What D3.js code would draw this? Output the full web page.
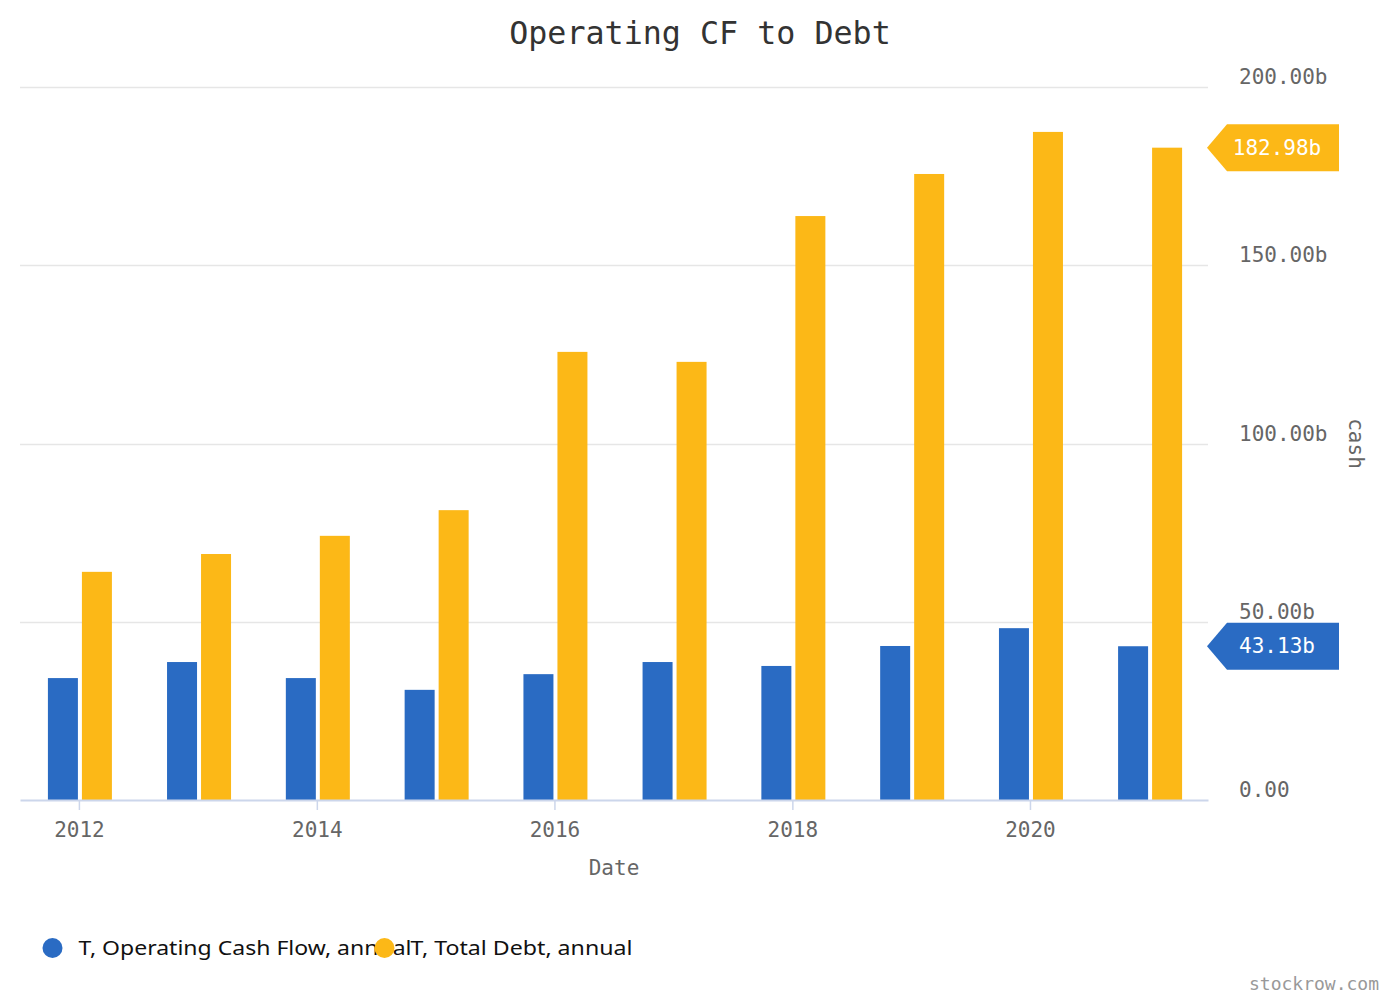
<!DOCTYPE html>
<html>
<head>
<meta charset="utf-8">
<script src="https://cdn.jsdelivr.net/npm/d3@7"></script>
<style>
  html, body { margin: 0; padding: 0; background: #fff; }
  svg { display: block; }
</style>
</head>
<body>
<svg id="chart" width="1400" height="1000"></svg>
<script>
// ---- data ----
const dates = ["2012-01-01","2013-01-01","2014-01-01","2015-01-01","2016-01-01",
               "2017-01-01","2018-01-01","2019-01-01","2020-01-01","2021-01-01"];
const operatingCashFlow = [34.2, 38.7, 34.2, 30.9, 35.3, 38.7, 37.6, 43.2, 48.2, 43.13];
const totalDebt = [64.0, 69.0, 74.1, 81.3, 125.7, 122.9, 163.8, 175.6, 187.4, 182.98];
const seriesNames = ["T, Operating Cash Flow, annual", "T, Total Debt, annual"];
const seriesColors = ["#2a6bc3", "#fcb817"];
const yTicks = [0, 50, 100, 150, 200];
const xTickYears = [2012, 2014, 2016, 2018, 2020];

const mono = "'DejaVu Sans Mono', 'Liberation Mono', monospace";
const sans = "'Noto Sans', 'Open Sans', sans-serif";

const svg = d3.select("#chart");
const parse = d3.timeParse("%Y-%m-%d");
const rows = dates.map((d, i) => ({ date: parse(d), values: [operatingCashFlow[i], totalDebt[i]] }));

const plot = { left: 20, right: 1208, top: 87, bottom: 800 };

const x = d3.scaleTime()
  .domain([new Date(2011, 6, 4), new Date(2021, 6, 1)])
  .range([plot.left, plot.right]);
const y = d3.scaleLinear().domain([0, 200]).range([plot.bottom, plot.top]);
const inner = d3.scaleBand().domain([0, 1]).range([-31, 33]).paddingInner(4 / 34);

// title
svg.append("text")
  .attr("x", 700).attr("y", 44)
  .attr("text-anchor", "middle")
  .style("font-family", mono).style("font-size", "31.7px").style("fill", "#333")
  .text("Operating CF to Debt");

// grid lines
svg.append("g").selectAll("line")
  .data(yTicks.filter(t => t > 0))
  .join("line")
  .attr("x1", plot.left).attr("x2", plot.right)
  .attr("y1", d => Math.round(y(d)) + 0.5).attr("y2", d => Math.round(y(d)) + 0.5)
  .attr("stroke", "#e6e6e6").attr("stroke-width", 1.5);

// y axis labels (right)
svg.append("g").selectAll("text")
  .data(yTicks)
  .join("text")
  .attr("x", 1239).attr("y", d => y(d) - 3)
  .style("font-family", mono).style("font-size", "21px").style("fill", "#666")
  .text(d => d === 0 ? "0.00" : d3.format(".2f")(d) + "b");

// y axis title
svg.append("text")
  .attr("transform", `translate(1349, ${(plot.top + plot.bottom) / 2}) rotate(90)`)
  .attr("text-anchor", "middle")
  .style("font-family", mono).style("font-size", "21px").style("fill", "#666")
  .text("cash");

// bars
const groups = svg.append("g").selectAll("g")
  .data(rows)
  .join("g")
  .attr("transform", d => `translate(${x(d.date)},0)`);
groups.selectAll("rect")
  .data(d => d.values.map((v, i) => ({ v, i })))
  .join("rect")
  .attr("x", d => inner(d.i))
  .attr("width", inner.bandwidth())
  .attr("y", d => y(d.v))
  .attr("height", d => y(0) - y(d.v))
  .attr("fill", d => seriesColors[d.i]);

// x axis
const xAxis = d3.axisBottom(x)
  .tickValues(xTickYears.map(yr => new Date(yr, 0, 1)))
  .tickFormat(d3.timeFormat("%Y"))
  .tickSizeInner(10)
  .tickSizeOuter(0)
  .tickPadding(12);
const gx = svg.append("g")
  .attr("transform", `translate(0,${plot.bottom})`)
  .call(xAxis);
gx.select(".domain").attr("stroke", "#ccd6eb").attr("stroke-width", 2);
gx.selectAll(".tick line").attr("stroke", "#ccd6eb").attr("stroke-width", 1.5);
gx.selectAll(".tick text")
  .style("font-family", mono).style("font-size", "21px").attr("fill", "#666");

// x axis title
svg.append("text")
  .attr("x", (plot.left + plot.right) / 2).attr("y", 875)
  .attr("text-anchor", "middle")
  .style("font-family", mono).style("font-size", "21px").style("fill", "#666")
  .text("Date");

// last-value flags
const last = rows[rows.length - 1];
[1, 0].forEach(i => {
  const v = last.values[i];
  const cy = y(v);
  const g = svg.append("g");
  const x0 = 1207, x1 = 1227, x2 = 1339, h = 23.5;
  g.append("path")
    .attr("d", `M${x0},${cy} L${x1},${cy - h} L${x2},${cy - h} L${x2},${cy + h} L${x1},${cy + h} Z`)
    .attr("fill", seriesColors[i]);
  g.append("text")
    .attr("x", 1277).attr("y", cy + 7)
    .attr("text-anchor", "middle")
    .style("font-family", mono).style("font-size", "21px").style("fill", "#fff")
    .text(d3.format(".2f")(v) + "b");
});

// legend
const legendTextWidths = [333, 222];
const legend = svg.append("g").selectAll("g")
  .data(seriesNames)
  .join("g")
  .attr("transform", (d, i) => `translate(${52.5 + i * 332},948)`);
legend.append("text")
  .attr("x", 26).attr("y", 7)
  .attr("textLength", (d, i) => legendTextWidths[i])
  .attr("lengthAdjust", "spacingAndGlyphs")
  .style("font-family", sans).style("font-size", "20px").style("font-weight", 400).style("fill", "#111")
  .text(d => d);
legend.append("circle")
  .attr("r", 10)
  .attr("fill", (d, i) => seriesColors[i]);

// watermark
svg.append("text")
  .attr("x", 1379).attr("y", 990)
  .attr("text-anchor", "end")
  .style("font-family", mono).style("font-size", "18px").style("fill", "#999")
  .text("stockrow.com");
</script>
</body>
</html>
